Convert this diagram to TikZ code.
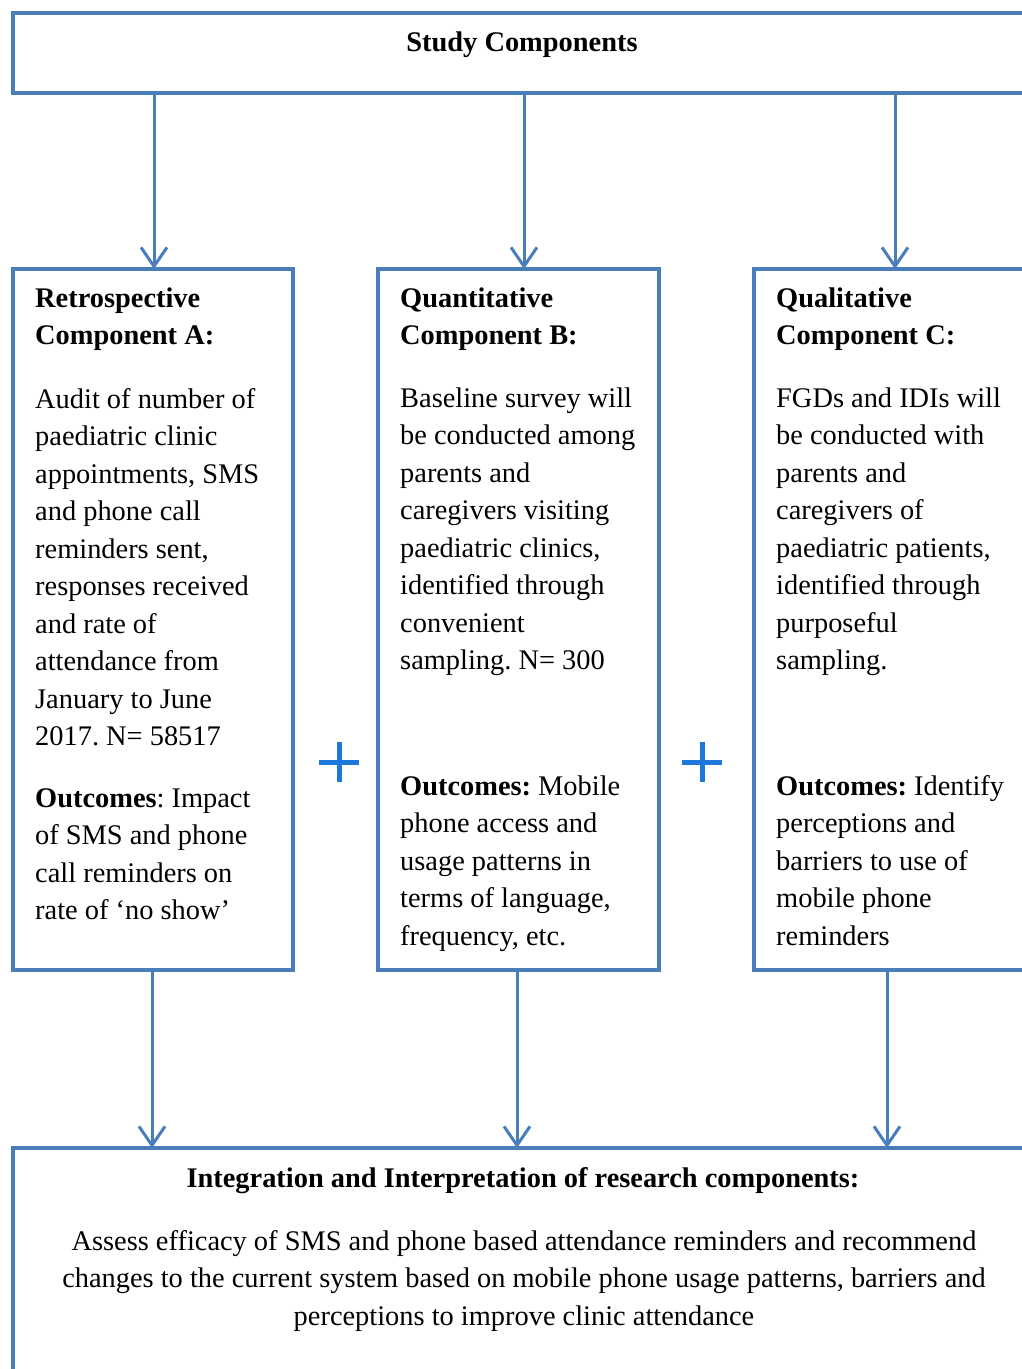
\documentclass[tikz,border=0pt]{standalone}
\usepackage{fontspec}
\setmainfont{Liberation Serif}
\usetikzlibrary{arrows.meta}
\frenchspacing

\definecolor{boxblue}{RGB}{74,126,187}
\definecolor{plusblue}{RGB}{30,120,220}
\newcommand{\cfont}{\fontsize{28.4pt}{37.5pt}\selectfont}
\newcommand{\lsk}{37.5}

\tikzset{
  compbox/.style={draw=boxblue, line width=4.5pt, rectangle, inner sep=0pt, outer sep=0pt, anchor=north west},
  txt/.style={anchor=base west, align=left, inner sep=0pt, font=\cfont},
  ctxt/.style={anchor=base, align=center, inner sep=0pt, font=\cfont},
  arr/.style={draw=boxblue, line width=3pt, -{Straight Barb[length=19pt,width=26pt,line width=3pt]}},
  plussign/.style={draw=plusblue, line width=5pt}
}

\begin{document}
\begin{tikzpicture}[x=1pt, y=-1pt]

\useasboundingbox (0,0) rectangle (1022,1369);
\clip (0,0) rectangle (1022,1369);
%	\draw[red] (0,0) rectangle (1022,1369);

 % boxes
 \node[compbox, minimum width=1018pt, minimum height=80pt] (study) at (13,13) {};
 \node[compbox, minimum width=280pt, minimum height=701pt] (compA) at (13,269) {};
 \node[compbox, minimum width=281pt, minimum height=701pt] (compB) at (378,269) {};
 \node[compbox, minimum width=282pt, minimum height=701pt] (compC) at (754,269) {};
 \node[compbox, minimum width=1020pt, minimum height=260pt] (integ) at (13,1148) {};

 \node[ctxt] (studyt) at (522,51) {\textbf{Study Components}};

 % base of a node = baseline of its last line
 % component A
 \node[txt] (headA) at (35,{307+\lsk}) {\textbf{Retrospective}\\\textbf{Component A:}};
 \node[txt] (bodyA) at (35,{408+9*\lsk}) {Audit of number of\\paediatric clinic\\appointments, SMS\\and phone call\\reminders sent,\\responses received\\and rate of\\attendance from\\January to June\\2017. N= 58517};
 \node[txt] (outA) at (35,{807+3*\lsk}) {\textbf{Outcomes}: Impact\\of SMS and phone\\call reminders on\\rate of ‘no show’};

 % component B
 \node[txt] (headB) at (400,{307+\lsk}) {\textbf{Quantitative}\\\textbf{Component B:}};
 \node[txt] (bodyB) at (400,{407+7*\lsk}) {Baseline survey will\\be conducted among\\parents and\\caregivers visiting\\paediatric clinics,\\identified through\\convenient\\sampling. N= 300};
 \node[txt] (outB) at (400,{795+4*\lsk}) {\textbf{Outcomes:} Mobile\\phone access and\\usage patterns in\\terms of language,\\frequency, etc.};

 % component C
 \node[txt] (headC) at (776,{307+\lsk}) {\textbf{Qualitative}\\\textbf{Component C:}};
 \node[txt] (bodyC) at (776,{407+7*\lsk}) {FGDs and IDIs will\\be conducted with\\parents and\\caregivers of\\paediatric patients,\\identified through\\purposeful\\sampling.};
 \node[txt] (outC) at (776,{795+4*\lsk}) {\textbf{Outcomes:} Identify\\perceptions and\\barriers to use of\\mobile phone\\reminders};

 % integration
 \node[ctxt] (integh) at (523,1187) {\textbf{Integration and Interpretation of research components:}};
 \node[ctxt] (integt) at (524,{1250+2*\lsk}) {Assess efficacy of SMS and phone based attendance reminders and recommend\\changes to the current system based on mobile phone usage patterns, barriers and\\perceptions to improve clinic attendance};

 % arrows
 \draw[arr] ([xshift=1pt]study.south -| compA.north) -- ([xshift=1pt]compA.north);
 \draw[arr] ([xshift=5.5pt]study.south -| compB.north) -- ([xshift=5.5pt]compB.north);
 \draw[arr] (study.south -| compC.north) -- (compC.north);

 \draw[arr] ([xshift=-1pt]compA.south) -- ([xshift=-1pt]integ.north -| compA.south);
 \draw[arr] ([xshift=-1.5pt]compB.south) -- ([xshift=-1.5pt]integ.north -| compB.south);
 \draw[arr] ([xshift=-8pt]compC.south) -- ([xshift=-8pt]integ.north -| compC.south);

 % plus signs
 \foreach \px in {339,702}{%
   \draw[plussign] (\px-20,762) -- (\px+20,762) (\px,742) -- (\px,782);
 }

\end{tikzpicture}
\end{document}
